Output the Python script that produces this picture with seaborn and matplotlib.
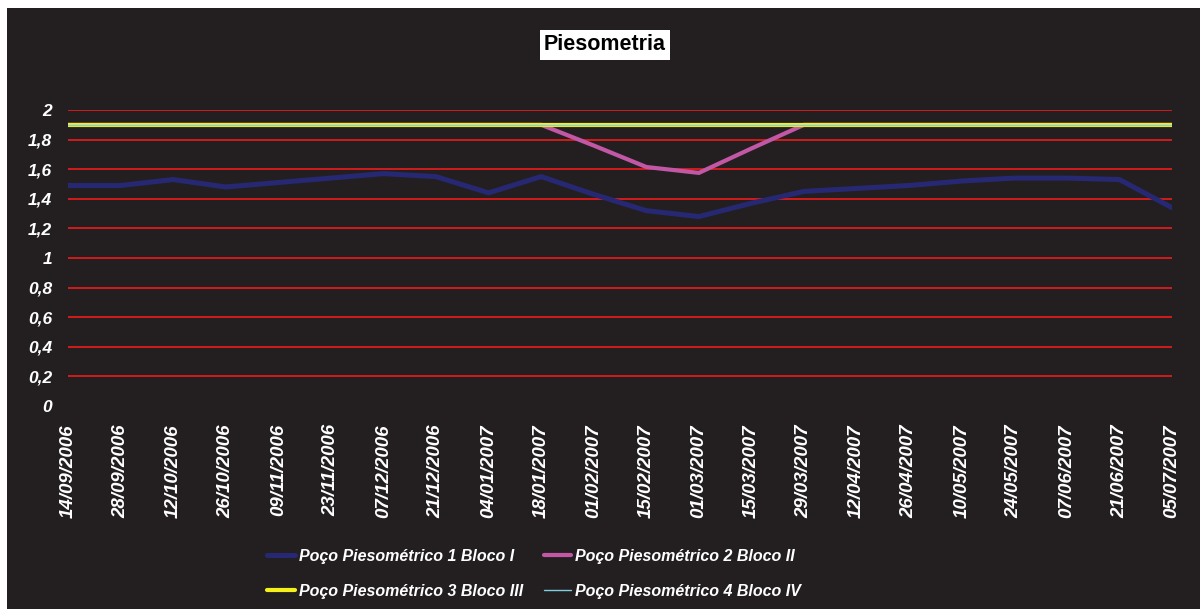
import matplotlib
matplotlib.use("Agg")
import matplotlib.pyplot as plt
import seaborn as sns
import numpy as np
import pandas as pd
from matplotlib.patches import Rectangle

# data
dates = ['14/09/2006', '28/09/2006', '12/10/2006', '26/10/2006', '09/11/2006',
         '23/11/2006', '07/12/2006', '21/12/2006', '04/01/2007', '18/01/2007',
         '01/02/2007', '15/02/2007', '01/03/2007', '15/03/2007', '29/03/2007',
         '12/04/2007', '26/04/2007', '10/05/2007', '24/05/2007', '07/06/2007',
         '21/06/2007', '05/07/2007']
poco1 = [1.49, 1.49, 1.53, 1.48, 1.51, 1.54, 1.57, 1.55, 1.44, 1.55, 1.43,
         1.32, 1.28, 1.37, 1.45, 1.47, 1.49, 1.52, 1.54, 1.54, 1.53, 1.34]
poco2 = [1.9, 1.9, 1.9, 1.9, 1.9, 1.9, 1.9, 1.9, 1.9, 1.9, 1.76,
         1.615, 1.575, 1.74, 1.9, 1.9, 1.9, 1.9, 1.9, 1.9, 1.9, 1.9]
poco3 = [1.9] * 22
poco4 = [1.9] * 22

series_names = ['Poço Piesométrico 1 Bloco I', 'Poço Piesométrico 2 Bloco II',
                'Poço Piesométrico 3 Bloco III', 'Poço Piesométrico 4 Bloco IV']
colors = ['#272874', '#c257a6', '#f5f01c', '#7fd0e0']
widths = [3.6, 3.0, 3.0, 1.0]

bg = '#231f20'
sns.set_theme(style='dark')
plt.rcParams['font.family'] = ['Liberation Sans', 'DejaVu Sans']

fig = plt.figure(figsize=(12, 6.09), dpi=100)
fig.patch.set_facecolor('white')
fig.patches.append(Rectangle((7 / 1200, 0), 1, 1 - 8 / 609, transform=fig.transFigure,
                             facecolor=bg, edgecolor='none', zorder=-10))

ax = fig.add_axes([68 / 1200, 1 - 406 / 609, (1172 - 68) / 1200, (406 - 110) / 609])
ax.set_facecolor(bg)

x = np.arange(len(dates))
for name, vals, c, lw in zip(series_names, [poco1, poco2, poco3, poco4], colors, widths):
    sns.lineplot(x=x, y=vals, ax=ax, color=c, linewidth=lw, label=name,
                 solid_joinstyle='miter')

ax.set_xlim(0, len(dates) - 1)
ax.set_ylim(0, 2)
yt = np.round(np.arange(0, 2.01, 0.2), 1)
for v in yt[1:]:
    ax.axhline(v, color='#ff1a1a', lw=1.1, zorder=0)
ax.grid(False)
for s in ax.spines.values():
    s.set_visible(False)

ax.set_yticks(yt)
ax.set_yticklabels([('%g' % v).replace('.', ',') for v in yt], color='white',
                   fontsize=12.5, fontweight='bold', fontstyle='italic')
ax.set_xticks(x)
ax.set_xticklabels(dates, rotation=90, color='white', fontsize=13.5,
                   fontweight='bold', fontstyle='italic')
ax.tick_params(axis='both', length=0)
ax.tick_params(axis='y', pad=11.5)
ax.tick_params(axis='x', pad=13)
ax.set_xlabel('')
ax.set_ylabel('')

fig.text(605 / 1200, 1 - 45 / 609, 'Piesometria', ha='center', va='center',
         fontsize=15.5, fontweight='bold', color='black',
         bbox=dict(facecolor='white', edgecolor='none', pad=3))

ax.get_legend().remove()
handles, labels = ax.get_legend_handles_labels()
order = [0, 2, 1, 3]  # row-wise like the original
leg = fig.legend([handles[i] for i in order], [labels[i] for i in order], ncol=2,
                 loc='center', bbox_to_anchor=(534 / 1200, 1 - 574 / 609),
                 frameon=False, handlelength=1.7, handletextpad=0.25, columnspacing=1.3,
                 labelspacing=1.25,
                 prop={'size': 11.5, 'weight': 'bold', 'style': 'italic'})
for t in leg.get_texts():
    t.set_color('white')

fig.savefig('out.png', dpi=100, facecolor=fig.get_facecolor())
